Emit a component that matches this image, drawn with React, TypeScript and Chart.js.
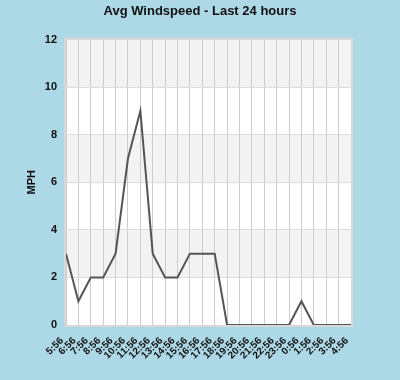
import React, { useEffect, useRef } from "react";
import { Chart, registerables } from "chart.js";

Chart.register(...registerables);

const categories = ["5:56","6:56","7:56","8:56","9:56","10:56","11:56","12:56","13:56","14:56","15:56","16:56","17:56","18:56","19:56","20:56","21:56","22:56","23:56","0:56","1:56","2:56","3:56","4:56"];
const windspeed = [3,1,2,2,3,7,9,3,2,2,3,3,3,0,0,0,0,0,0,1,0,0,0,0];
const bandRanges = [[2,4],[6,8],[10,12]];

const FONT = "Liberation Sans, Arial, sans-serif";

const bgPlugin = {
  id: "bgBands",
  beforeDraw(chart: any) {
    const { ctx, chartArea: a, scales } = chart;
    ctx.save();
    ctx.fillStyle = "#add8e6";
    ctx.fillRect(0, 0, chart.width, chart.height);
    ctx.fillStyle = "#ffffff";
    ctx.fillRect(a.left, a.top, a.right - a.left, a.bottom - a.top);
    ctx.fillStyle = "#f3f3f3";
    for (const [lo, hi] of bandRanges) {
      const y1 = scales.y.getPixelForValue(hi);
      const y2 = scales.y.getPixelForValue(lo);
      ctx.fillRect(a.left, y1, a.right - a.left, y2 - y1);
    }
    ctx.restore();
  },
  afterDatasetsDraw(chart: any) {
    const { ctx, chartArea: a } = chart;
    ctx.save();
    ctx.strokeStyle = "#d8d8d8";
    ctx.lineWidth = 2;
    ctx.strokeRect(a.left - 1, a.top - 1, a.right - a.left + 2, a.bottom - a.top + 2);
    ctx.restore();
  },
};

export default function App() {
  const ref = useRef<HTMLCanvasElement>(null);
  useEffect(() => {
    document.body.style.margin = "0";
    const chart = new Chart(ref.current!, {
      type: "line",
      data: {
        labels: categories,
        datasets: [{
          data: windspeed,
          yAxisID: "y",
          borderColor: "#555555",
          borderWidth: 2,
          pointRadius: 0,
          tension: 0,
          fill: false,
        }],
      },
      options: {
        animation: false,
        responsive: false,
        devicePixelRatio: 1,
        layout: { padding: 0 },
        plugins: {
          legend: { display: false },
          tooltip: { enabled: false },
          title: {
            display: true,
            text: "Avg Windspeed - Last 24 hours",
            color: "#111",
            font: { family: FONT, size: 13, weight: "bold" },
            padding: { top: 4, bottom: 20 },
          },
        },
        scales: {
          x: {
            grid: { color: "#cccccc", lineWidth: 1, drawTicks: false },
            border: { display: false },
            ticks: {
              color: "#111",
              autoSkip: false,
              maxRotation: 45,
              minRotation: 45,
              padding: 10,
              labelOffset: -4,
              font: { family: FONT, size: 10, weight: "bold" },
            },
            afterFit: (s: any) => { s.height = 55; },
          },
          y: {
            min: 0,
            max: 12,
            grid: { color: "#dddddd", lineWidth: 1, drawTicks: false },
            border: { display: false },
            ticks: {
              stepSize: 2,
              color: "#111",
              padding: 9,
              font: { family: FONT, size: 11, weight: "bold" },
            },
            title: {
              display: true,
              text: "MPH",
              color: "#111",
              font: { family: FONT, size: 11, weight: "bold" },
              padding: { top: 25, bottom: 0 },
            },
            afterFit: (s: any) => { s.width = 66; },
          },
          yRight: {
            position: "right",
            display: true,
            grid: { display: false, drawTicks: false },
            border: { display: false },
            ticks: { display: false },
            afterFit: (s: any) => { s.width = 49; },
          },
        },
      },
      plugins: [bgPlugin],
    } as any);
    return () => chart.destroy();
  }, []);
  return (
    <div style={{ width: 400, height: 380, background: "#add8e6" }}>
      <canvas ref={ref} width={400} height={380} style={{ display: "block" }} />
    </div>
  );
}
